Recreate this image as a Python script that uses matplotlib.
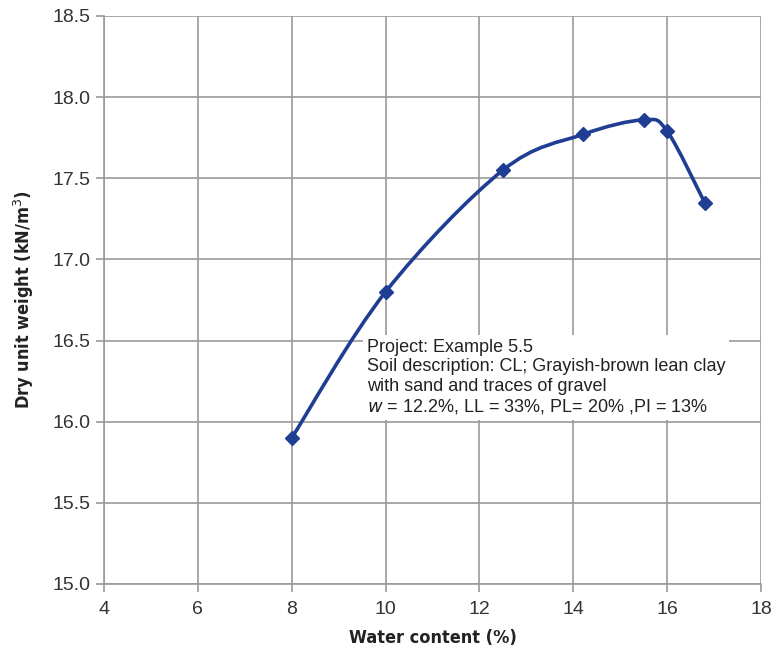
import matplotlib
matplotlib.use("Agg")
import matplotlib.pyplot as plt
from matplotlib.path import Path
from matplotlib.patches import PathPatch
import numpy as np

water_content = [8.0, 10.0, 12.5, 14.2, 15.5, 16.0, 16.8]
dry_unit_weight = [15.90, 16.80, 17.55, 17.77, 17.86, 17.79, 17.35]
x_ticks = [4, 6, 8, 10, 12, 14, 16, 18]
y_ticks = [15.0, 15.5, 16.0, 16.5, 17.0, 17.5, 18.0, 18.5]

LINE = "#1f3d92"
GRID = "#9a9a9a"
plt.rcParams["font.family"] = ["Liberation Sans", "DejaVu Sans"]

fig = plt.figure(figsize=(7.74, 6.51), dpi=100)
ax = fig.add_axes([104/774, 1-584/651, (761-104)/774, (584-16)/651])
ax.set_xlim(4, 18)
ax.set_ylim(15.0, 18.5)
ax.set_xticks(x_ticks)
ax.set_yticks(y_ticks)
ax.set_yticklabels([f"{v:.1f}" for v in y_ticks])
ax.grid(True, color=GRID, linewidth=1.2)
for s in ["top", "right"]:
    ax.spines[s].set_visible(False)
for s in ["left", "bottom"]:
    ax.spines[s].set_color(GRID)
    ax.spines[s].set_linewidth(1.2)
ax.tick_params(axis="both", colors=GRID, length=6, width=1.2, labelcolor="#333333", labelsize=14)
ax.tick_params(axis="x", pad=6)

# Excel-like smooth curve (Bezier through data points)
pts = np.column_stack([water_content, dry_unit_weight])
disp = ax.transData.transform(pts)
n = len(disp)
verts = [disp[0]]
codes = [Path.MOVETO]
t = 1/6
for i in range(n - 1):
    p0 = disp[i-1] if i > 0 else disp[i]
    p1 = disp[i]
    p2 = disp[i+1]
    p3 = disp[i+2] if i + 2 < n else disp[i+1]
    c1 = p1 + (p2 - p0) * t
    c2 = p2 - (p3 - p1) * t
    verts += [c1, c2, p2]
    codes += [Path.CURVE4] * 3
path = Path(ax.transData.inverted().transform(np.array(verts)), codes)
ax.add_patch(PathPatch(path, facecolor="none", edgecolor=LINE, linewidth=2.6, zorder=3))
ax.plot(water_content, dry_unit_weight, linestyle="none", marker="D", markersize=7.5,
        color=LINE, zorder=4)

txt = ("Project: Example 5.5\n"
       "Soil description: CL; Grayish-brown lean clay\n"
       "with sand and traces of gravel\n"
       "$w$ = 12.2%, LL = 33%, PL= 20% ,PI = 13%")
ax.text(9.6, 16.51, txt, fontsize=13, color="#222222", va="top", ha="left",
        linespacing=1.18, zorder=5,
        bbox=dict(facecolor="white", edgecolor="none", pad=3))

lab_font = dict(family=["DejaVu Sans"], stretch="condensed", weight="bold", size=13, color="#222222")
ax.set_xlabel("Water content (%)", fontdict=lab_font, labelpad=8)
ax.set_ylabel("Dry unit weight (kN/m$^3$)", fontdict=lab_font, labelpad=12)

fig.savefig("out.png", dpi=100)
